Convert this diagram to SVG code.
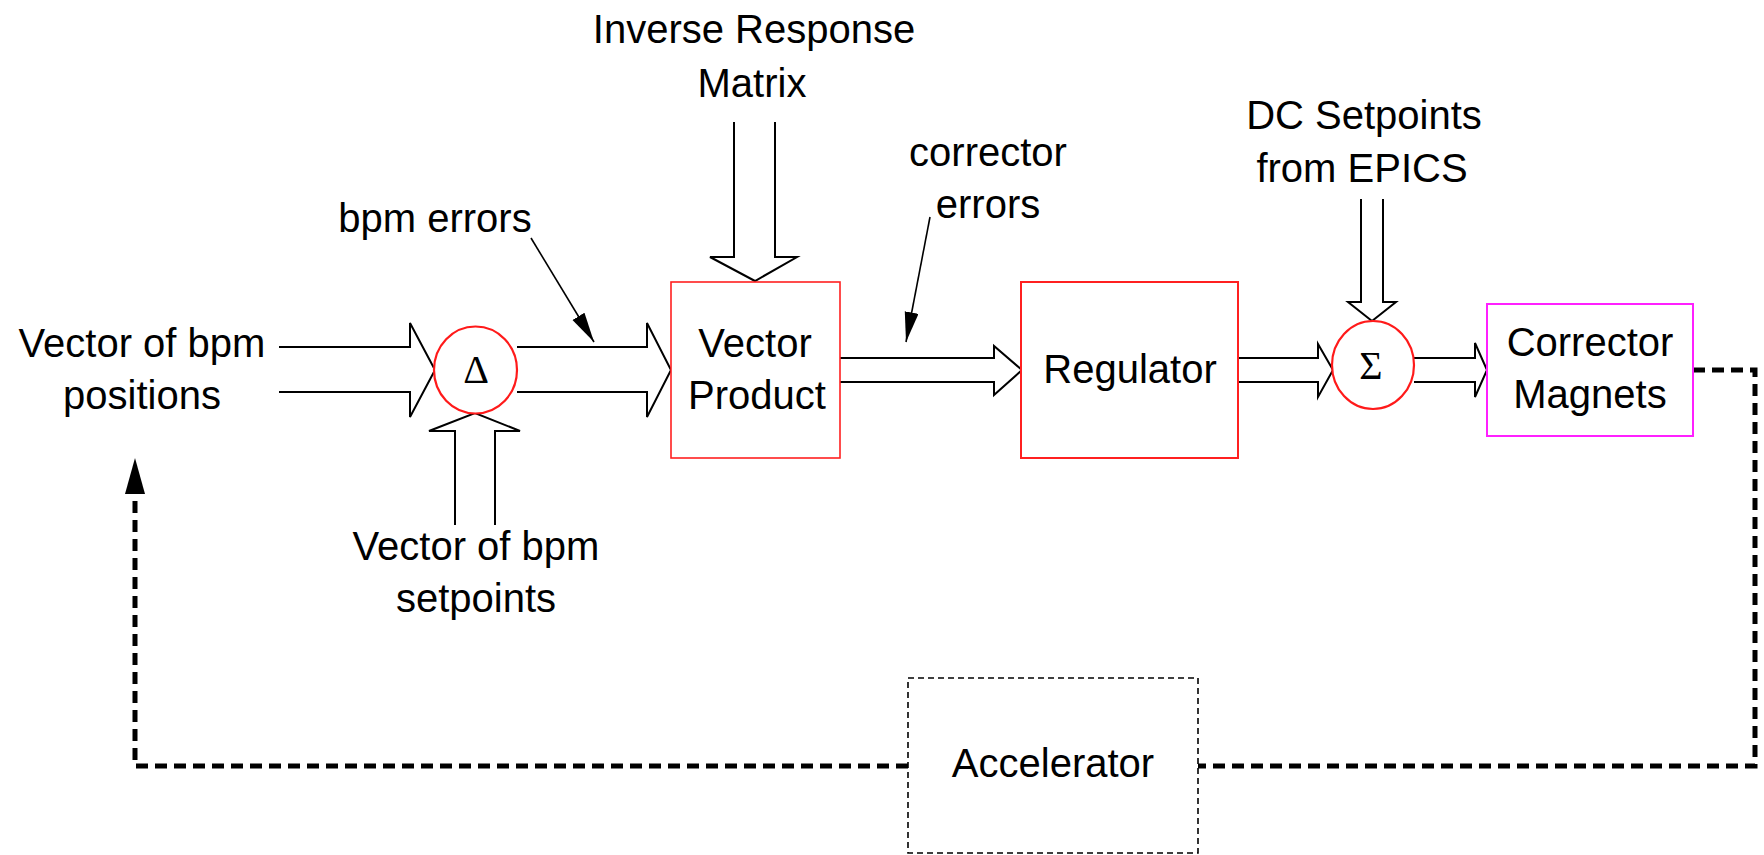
<svg xmlns="http://www.w3.org/2000/svg" width="1764" height="855" viewBox="0 0 1764 855">
<style>
text{font-family:"Liberation Sans",Arial,sans-serif;font-size:40px;fill:#000;text-anchor:middle}
.sym{font-family:"Liberation Serif","Times New Roman",serif}
.hollow{fill:#fff;stroke:#000;stroke-width:2;stroke-linejoin:miter}
.ptr{fill:none;stroke:#000;stroke-width:1.6}
.fb{fill:none;stroke:#000;stroke-width:5;stroke-dasharray:12 7}
.redbox{fill:#fff;stroke:#ff2020;stroke-width:2}
.circ{fill:#fff;stroke:#ff1a1a;stroke-width:2.2}
</style>
<defs>
<marker id="ah" markerUnits="userSpaceOnUse" markerWidth="32" markerHeight="16" refX="30" refY="7" orient="auto">
<path d="M0 0 L30 7 L0 14 Z" fill="#000"/>
</marker>
</defs>
<rect width="1764" height="855" fill="#fff"/>
<g id="connectors">
<path class="hollow" d="M279 347 L410 347 L410 323 L435 370 L410 417 L410 392 L279 392"/>
<path class="hollow" d="M517 347 L647 347 L647 323 L671 370 L647 417 L647 392 L517 392"/>
<path class="hollow" d="M455 525 L455 431 L429 431 L475 413 L520 431 L495 431 L495 525"/>
<path class="hollow" d="M734 122 L734 257 L710 257 L755 281 L797 257 L775 257 L775 122"/>
<path class="hollow" d="M840 358 L994 358 L994 346 L1022 370 L994 395 L994 382 L840 382"/>
<path class="hollow" d="M1238 358 L1318 358 L1318 344 L1333 370 L1318 397 L1318 382 L1238 382"/>
<path class="hollow" d="M1414 358 L1475 358 L1475 343 L1487 370 L1475 397 L1475 382 L1414 382"/>
<path class="hollow" d="M1361 199 L1361 302 L1348 302 L1372 321 L1396 302 L1383 302 L1383 199"/>
<path class="ptr" d="M531 238 L594 342" marker-end="url(#ah)"/>
<path class="ptr" d="M930 217 L906 342" marker-end="url(#ah)"/>
<path class="fb" d="M1693 370 L1755 370 L1755 766 L1198 766"/>
<path class="fb" d="M908 766 L135 766 L135 492"/>
<path d="M125 494 L135 458 L145 494 Z" fill="#000"/>
</g>
<g id="input-positions">
<text x="142" y="357">Vector of bpm</text>
<text x="142" y="409">positions</text>
</g>
<g id="label-bpm-errors">
<text x="435" y="232">bpm errors</text>
</g>
<g id="input-irm">
<text x="754" y="43">Inverse Response</text>
<text x="752" y="97">Matrix</text>
</g>
<g id="label-corrector-errors">
<text x="988" y="166">corrector</text>
<text x="988" y="218">errors</text>
</g>
<g id="input-dc">
<text x="1364" y="129">DC Setpoints</text>
<text x="1362" y="182">from EPICS</text>
</g>
<g id="input-setpoints">
<text x="476" y="560">Vector of bpm</text>
<text x="476" y="612">setpoints</text>
</g>
<g id="delta">
<ellipse class="circ" cx="475.5" cy="370" rx="41.5" ry="43.5"/>
<text class="sym" x="476" y="383" font-size="40">Δ</text>
</g>
<g id="vector-product">
<rect x="671" y="282" width="169" height="176" fill="#fff" stroke="#ff2020" stroke-width="1.6"/>
<text x="755" y="357">Vector</text>
<text x="757" y="409">Product</text>
</g>
<g id="regulator">
<rect class="redbox" x="1021" y="282" width="217" height="176"/>
<text x="1130" y="383">Regulator</text>
</g>
<g id="sigma">
<ellipse class="circ" cx="1373" cy="365" rx="41" ry="44"/>
<text class="sym" x="1371" y="379" font-size="44">Σ</text>
</g>
<g id="corrector-magnets">
<rect x="1487" y="304" width="206" height="132" fill="#fff" stroke="#ff20ff" stroke-width="2"/>
<text x="1590" y="356">Corrector</text>
<text x="1590" y="408">Magnets</text>
</g>
<g id="accelerator">
<rect x="908" y="678" width="290" height="175" fill="#fff" stroke="#000" stroke-width="1.6" stroke-dasharray="6 4"/>
<text x="1053" y="777">Accelerator</text>
</g>
</svg>
